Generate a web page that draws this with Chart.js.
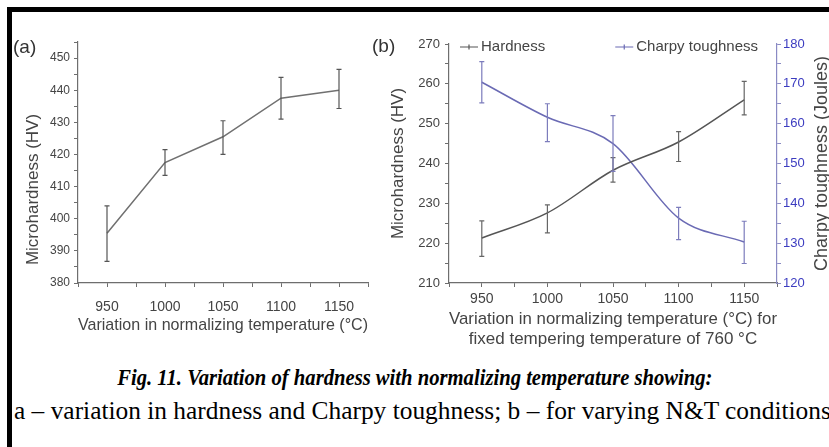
<!DOCTYPE html>
<html>
<head>
<meta charset="utf-8">
<script src="https://cdn.jsdelivr.net/npm/chart.js@4.4.0/dist/chart.umd.min.js"></script>
<style>
    html, body { margin: 0; padding: 0; background: #fff; }
    #page { position: relative; width: 829px; height: 447px; overflow: hidden; background: #fff; }
    #frame { position: absolute; left: 7px; top: 7px; right: 0; bottom: 0; border-left: 5px solid #000; border-top: 5px solid #000; }
    .panel { position: absolute; top: 12px; height: 340px; }
    #panelA { left: 12px; width: 368px; }
    #panelB { left: 366px; width: 463px; }
    .cap { position: absolute; font-family: "Liberation Serif", "Times New Roman", serif; color: #000; white-space: nowrap; }
    #cap1 { left: 0; width: 829px; text-align: center; top: 364px; font-size: 24px; font-weight: bold; font-style: italic; transform: scaleX(0.86); transform-origin: 417px 0; }
    #cap2 { left: 14px; top: 396px; font-size: 25.4px; }
</style>
</head>
<body>
<div id="page">
    <div id="frame"></div>
    <div class="panel" id="panelA"><canvas id="chartA"></canvas></div>
    <div class="panel" id="panelB"><canvas id="chartB"></canvas></div>
    <div class="cap" id="cap1">Fig. 11. Variation of hardness with normalizing temperature showing:</div>
    <div class="cap" id="cap2">a – variation in hardness and Charpy toughness; b – for varying N&amp;T conditions</div>
</div>
<script>
// normalizing temperatures (°C)
var temps = [950, 1000, 1050, 1100, 1150];

// (a) microhardness vs normalizing temperature
var hardA = [395.5, 417.5, 425.5, 437.5, 440];
var hardALow = [386.7, 413.5, 420, 431, 434.3];
var hardAHigh = [404, 421.5, 430.5, 444, 446.5];

// (b) hardness (left axis) and Charpy toughness (right axis), tempered at 760 °C
var hardB = [221.3, 227.6, 238.3, 245.4, 256];
var hardBLow = [216.7, 222.6, 235.3, 240.5, 252.2];
var hardBHigh = [225.6, 229.6, 241.5, 248, 260.6];
var charpy = [170.4, 161.6, 155, 136.3, 130.3];
var charpyLow = [165.2, 155.5, 148, 130.9, 124.9];
var charpyHigh = [175.6, 165, 162, 139, 135.5];

var xRange = [925, 1175];
var yRangeA = [380, 455];
var yRangeB = [210, 270];
var yRangeB2 = [120, 180];

Chart.defaults.font.family = '"Liberation Sans", Arial, sans-serif';
Chart.defaults.color = '#444';

function points(ys) {
    return temps.map(function (t, i) { return { x: t, y: ys[i] }; });
}

function every(step) {
    return function (v) { return v % step === 0 ? String(v) : ''; };
}

function fixWidth(w) { return function (s) { s.width = w; }; }
function fixHeight(h) { return function (s) { s.height = h; }; }

var axisColor = '#6e6e6e';
var blue = '#6a6ab4';

// error bars, panel letters, in-plot legend and rotated titles
var extras = {
    id: 'extras',
    afterDatasetsDraw: function (chart) {
        var ctx = chart.ctx;
        chart.data.datasets.forEach(function (ds, i) {
            if (!ds.errLow) return;
            var meta = chart.getDatasetMeta(i);
            var xs = chart.scales[meta.xAxisID];
            var ys = chart.scales[meta.yAxisID];
            ctx.save();
            ctx.strokeStyle = ds.errColor;
            ctx.lineWidth = 1.2;
            ds.data.forEach(function (p, j) {
                var x = xs.getPixelForValue(p.x);
                var y1 = ys.getPixelForValue(ds.errLow[j]);
                var y2 = ys.getPixelForValue(ds.errHigh[j]);
                ctx.beginPath();
                ctx.moveTo(x, y1); ctx.lineTo(x, y2);
                ctx.moveTo(x - 2.5, y1); ctx.lineTo(x + 2.5, y1);
                ctx.moveTo(x - 2.5, y2); ctx.lineTo(x + 2.5, y2);
                ctx.stroke();
            });
            ctx.restore();
        });
    },
    afterDraw: function (chart) {
        var o = chart.options.plugins.extras || {};
        var ctx = chart.ctx;
        var area = chart.chartArea;
        var mid = (area.top + area.bottom) / 2;
        ctx.save();
        ctx.textBaseline = 'middle';
        if (o.letter) {
            ctx.font = '19px "Liberation Sans", Arial, sans-serif';
            ctx.fillStyle = '#333';
            ctx.textAlign = 'left';
            ctx.fillText(o.letter, o.letterX, o.letterY);
        }
        if (o.legend) {
            ctx.font = '15px "Liberation Sans", Arial, sans-serif';
            var ly = area.top + 3;
            chart.data.datasets.forEach(function (ds, i) {
                var w = ctx.measureText(ds.label).width;
                var x0 = i === 0 ? area.left + 11 : area.right - 17 - w - 23;
                ctx.strokeStyle = ds.borderColor;
                ctx.lineWidth = 1.2;
                ctx.beginPath();
                ctx.moveTo(x0, ly); ctx.lineTo(x0 + 18, ly);
                ctx.moveTo(x0 + 9, ly - 2.5); ctx.lineTo(x0 + 9, ly + 2.5);
                ctx.stroke();
                ctx.fillStyle = '#444';
                ctx.textAlign = 'left';
                ctx.fillText(ds.label, x0 + 21, ly);
            });
        }
        ctx.fillStyle = '#444';
        ctx.textAlign = 'center';
        if (o.leftTitle) {
            ctx.save();
            ctx.font = '17px "Liberation Sans", Arial, sans-serif';
            ctx.translate(o.leftTitleX, mid + o.leftTitleShift);
            ctx.rotate(-Math.PI / 2);
            ctx.fillText(o.leftTitle, 0, 0);
            ctx.restore();
        }
        if (o.rightTitle) {
            ctx.font = '18px "Liberation Sans", Arial, sans-serif';
            ctx.translate(chart.width - 7, mid);
            ctx.rotate(-Math.PI / 2);
            ctx.fillText(o.rightTitle, 0, 0);
        }
        ctx.restore();
    }
};

function xAxis(pad, titleText, titlePad) {
    return {
        type: 'linear', min: xRange[0], max: xRange[1],
        afterFit: fixHeight(69),
        ticks: { stepSize: 25, autoSkip: false, maxRotation: 0, padding: pad, callback: every(50), font: { size: 14 }, color: '#444' },
        grid: { drawOnChartArea: false, tickLength: 4, color: axisColor },
        border: { color: axisColor, width: 1.2 },
        title: { display: true, text: titleText, font: { size: 17 }, color: '#444', padding: { top: 0, bottom: titlePad } }
    };
}

new Chart(document.getElementById('chartA'), {
    type: 'line',
    data: {
        datasets: [{
            label: 'Microhardness',
            data: points(hardA),
            errLow: hardALow, errHigh: hardAHigh, errColor: '#555',
            borderColor: '#707070', borderWidth: 1.5, pointRadius: 0, tension: 0
        }]
    },
    options: {
        responsive: true, maintainAspectRatio: false, animation: false,
        layout: { padding: { left: 0, top: 30, right: 5, bottom: 0 } },
        plugins: { legend: { display: false }, tooltip: { enabled: false },
            extras: { letter: '(a)', letterX: 1, letterY: 36, leftTitle: 'Microhardness (HV)', leftTitleX: 21, leftTitleShift: 27 } },
        scales: {
            x: xAxis(12, 'Variation in normalizing temperature (°C)', 16),
            y: {
                min: yRangeA[0], max: yRangeA[1],
                afterFit: fixWidth(66),
                ticks: { stepSize: 5, autoSkip: false, padding: 4, callback: every(10), font: { size: 12 }, color: '#444' },
                grid: { drawOnChartArea: false, tickLength: 4, color: axisColor },
                border: { color: axisColor, width: 1.2 }
            }
        }
    },
    plugins: [extras]
});

new Chart(document.getElementById('chartB'), {
    type: 'line',
    data: {
        datasets: [{
            label: 'Hardness',
            data: points(hardB), yAxisID: 'y',
            errLow: hardBLow, errHigh: hardBHigh, errColor: '#666',
            borderColor: '#555', borderWidth: 1.5, pointRadius: 0, cubicInterpolationMode: 'monotone'
        }, {
            label: 'Charpy toughness',
            data: points(charpy), yAxisID: 'y1',
            errLow: charpyLow, errHigh: charpyHigh, errColor: '#7c7cbc',
            borderColor: blue, borderWidth: 1.5, pointRadius: 0, cubicInterpolationMode: 'monotone'
        }]
    },
    options: {
        responsive: true, maintainAspectRatio: false, animation: false,
        layout: { padding: { left: 0, top: 32, right: 0, bottom: 0 } },
        plugins: { legend: { display: false }, tooltip: { enabled: false },
            extras: { letter: '(b)', letterX: 6, letterY: 35, legend: true, rightTitle: 'Charpy toughness (Joules)' } },
        scales: {
            x: xAxis(4, ['Variation in normalizing temperature (°C) for', 'fixed tempering temperature of 760 °C'], 2),
            y: {
                position: 'left', min: yRangeB[0], max: yRangeB[1],
                afterFit: fixWidth(83),
                ticks: { stepSize: 5, autoSkip: false, padding: 5, callback: every(10), font: { size: 13 }, color: '#444' },
                grid: { drawOnChartArea: false, tickLength: 4, color: axisColor },
                border: { color: axisColor, width: 1.2 },
                title: { display: true, text: 'Microhardness (HV)', font: { size: 17 }, color: '#444', padding: { top: 22, bottom: 0 } }
            },
            y1: {
                position: 'right', min: yRangeB2[0], max: yRangeB2[1],
                afterFit: fixWidth(52),
                ticks: { stepSize: 5, autoSkip: false, padding: 2, callback: every(10), font: { size: 13 }, color: '#3c3cc0' },
                grid: { drawOnChartArea: false, tickLength: 4, color: '#8a8ac4' },
                border: { color: '#8a8ac4', width: 1.2 }
            }
        }
    },
    plugins: [extras]
});
</script>
</body>
</html>
